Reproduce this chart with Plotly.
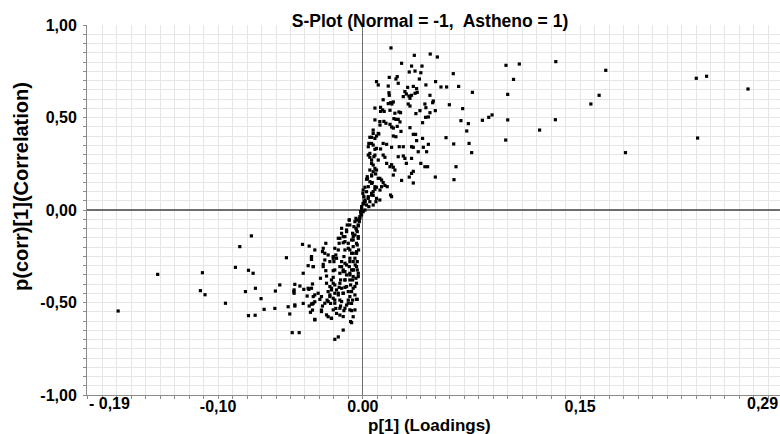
import plotly.graph_objects as go

# ---- data: (p[1] loading, p(corr)[1] correlation) ----
pos_upper = [
    [0.0194,0.876],[0.0355,0.836],[0.0465,0.843],[0.0514,0.827],[0.0267,0.793],[0.0336,0.778],[0.0408,0.778],[0.032,0.746],[0.036,0.751],[0.040,0.742],
    [0.039,0.708],[0.0237,0.721],[0.0228,0.708],[0.0182,0.717],[0.0624,0.737],[0.0094,0.694],[0.0106,0.676],[0.0175,0.670],[0.0244,0.685],[0.0309,0.663],
    [0.0348,0.668],[0.0371,0.656],[0.0435,0.676],[0.0502,0.694],[0.0539,0.665],[0.0578,0.665],[0.0661,0.668],[0.0756,0.636],[0.018,0.634],[0.0182,0.620],
    [0.029,0.640],[0.030,0.627],[0.0279,0.613],[0.0318,0.616],[0.0336,0.620],[0.036,0.631],[0.0375,0.636],[0.0463,0.620],[0.0486,0.589],[0.0482,0.580],
    [0.014,0.596],[0.0191,0.580],[0.021,0.584],[0.0175,0.575],[0.020,0.573],[0.0122,0.555],[0.0083,0.551],[0.0136,0.541],[0.0122,0.533],[0.0147,0.533],
    [0.0325,0.604],[0.0313,0.573],[0.0325,0.562],[0.0428,0.573],[0.0435,0.553],[0.0597,0.569],[0.0689,0.548],[0.0187,0.539],[0.0249,0.530],[0.026,0.526],
    [0.0221,0.523],[0.0394,0.537],[0.0366,0.521],[0.0463,0.526],[0.050,0.537],[0.0433,0.501],[0.0452,0.503],[0.0677,0.483],[0.0728,0.467],[0.0083,0.487],
    [0.0117,0.478],[0.0145,0.479],[0.0159,0.469],[0.0187,0.463],[0.0214,0.494],[0.0228,0.490],[0.0244,0.490],[0.0198,0.449],[0.021,0.443],[0.0237,0.452],
    [0.0256,0.476],[0.0325,0.445],[0.0412,0.472],[0.0717,0.427],[0.0574,0.391],[0.0627,0.357],[0.0733,0.360],[0.0751,0.310],[0.0071,0.414],[0.0094,0.400],
    [0.011,0.411],[0.006,0.393],[0.0048,0.393],[0.021,0.400],[0.0228,0.396],[0.0348,0.409],[0.0364,0.409],[0.0263,0.425],[0.0371,0.375],[0.0412,0.387],
    [0.0452,0.355],[0.0417,0.339],[0.0279,0.342],[0.0251,0.342],[0.0336,0.342],[0.0348,0.339],[0.0382,0.315],[0.044,0.315],[0.0041,0.360],[0.0071,0.351],
    [0.0083,0.328],[0.014,0.360],[0.0164,0.355],[0.0122,0.330],[0.0198,0.339],
]

pos_lower = [
    [0.0244,0.288],[0.0279,0.292],[0.029,0.279],[0.0336,0.279],[0.030,0.252],[0.040,0.252],[0.0428,0.234],[0.0447,0.234],[0.0643,0.234],[0.050,0.178],
    [0.0629,0.164],[0.0348,0.209],[0.0336,0.198],[0.032,0.178],[0.0267,0.160],[0.0348,0.146],[0.0037,0.297],[0.0048,0.285],[0.0076,0.288],[0.014,0.297],
    [0.0152,0.285],[0.0106,0.270],[0.0164,0.252],[0.0187,0.234],[0.0198,0.245],[0.021,0.231],[0.0221,0.216],[0.021,0.189],[0.006,0.252],[0.0071,0.243],
    [0.0083,0.225],[0.0048,0.216],[0.0071,0.207],[0.0088,0.195],[0.006,0.184],[0.003,0.180],[0.0025,0.166],[0.0048,0.153],[0.0065,0.148],[0.0117,0.171],
    [0.0129,0.162],[0.014,0.148],[0.0152,0.133],[0.0168,0.126],[0.0129,0.126],[0.0094,0.123],[0.0083,0.112],[0.0071,0.099],[0.0037,0.126],[0.0014,0.123],
    [0.0002,0.108],[0.006,0.090],[0.0071,0.079],[0.0191,0.081],[0.0198,0.072],[0.009,0.045],[0.0117,0.054],[0.0037,0.063],[0.0014,0.045],[0.0002,0.036],
    [-0.0009,0.018],[0.0025,0.027],[0.0007,0.072],[0.0,0.090],[-0.0009,-0.009],[-0.0014,-0.018],[0.0014,0.0],[0.0014,0.054],[0.0037,0.072],[0.0025,0.099],
    [0.0048,0.045],[0.006,0.144],[0.0032,0.171],[0.006,0.189],[0.006,0.270],[0.0083,0.297],[0.0048,0.306],[0.0094,0.333],[0.006,0.360],[0.0083,0.387],
    [0.0106,0.414],[0.0071,0.432],[0.0118,0.459],[0.0037,0.342],[0.0094,0.216],[0.0106,0.171],[0.0118,0.108],[0.0094,0.063],[0.0041,0.018],[0.006,0.081],
    [0.0083,0.126],[0.0071,0.027],
]

pos_outliers = [
    [0.0988,0.782],[0.108,0.789],[0.104,0.706],[0.100,0.625],[0.0825,0.485],[0.0869,0.501],[0.0892,0.514],[0.100,0.487],[0.122,0.432],[0.0986,0.378],
    [0.1332,0.802],[0.1329,0.488],[0.1677,0.755],[0.1631,0.620],[0.1574,0.573],[0.1813,0.310],[0.2302,0.712],[0.2373,0.723],[0.2659,0.654],[0.2311,0.389],
]

neg_outliers = [
    [-0.169,-0.546],[-0.1417,-0.348],[-0.1108,-0.339],[-0.1122,-0.436],[-0.109,-0.458],[-0.0949,-0.504],[-0.088,-0.310],[-0.085,-0.198],[-0.077,-0.140],[-0.079,-0.326],
    [-0.0758,-0.342],[-0.0811,-0.441],[-0.0742,-0.423],[-0.0703,-0.479],[-0.079,-0.571],[-0.0744,-0.569],[-0.0682,-0.537],
]

neg_core = [
    [-0.0528,-0.258],[-0.0604,-0.438],[-0.0608,-0.532],[-0.0574,-0.405],[-0.0516,-0.523],[-0.0505,-0.562],[-0.047,-0.519],[-0.0477,-0.441],[-0.047,-0.402],[-0.0488,-0.663],
    [-0.044,-0.663],[-0.0417,-0.186],[-0.0371,-0.195],[-0.0412,-0.342],[-0.0435,-0.411],[-0.0408,-0.429],[-0.0378,-0.423],[-0.0385,-0.465],[-0.0355,-0.423],[-0.0348,-0.400],
    [-0.0343,-0.468],[-0.0355,-0.252],[-0.0355,-0.267],[-0.0332,-0.216],[-0.0343,-0.306],[-0.0378,-0.301],[-0.0412,-0.505],[-0.0371,-0.519],[-0.0348,-0.508],[-0.0332,-0.496],
    [-0.0348,-0.541],[-0.0362,-0.553],[-0.0332,-0.591],[-0.0293,-0.369],[-0.0297,-0.483],[-0.0286,-0.541],[-0.0279,-0.519],[-0.0274,-0.294],[-0.0279,-0.225],[-0.0256,-0.180],
    [-0.0256,-0.328],[-0.0251,-0.357],[-0.0251,-0.396],[-0.024,-0.441],[-0.0247,-0.487],[-0.0263,-0.234],[-0.0228,-0.414],[-0.0228,-0.468],[-0.0217,-0.378],[-0.0217,-0.432],
    [-0.0223,-0.505],[-0.024,-0.577],[-0.0217,-0.586],[-0.0205,-0.328],[-0.0205,-0.364],[-0.0194,-0.405],[-0.0194,-0.450],[-0.0194,-0.487],[-0.0187,-0.532],[-0.0182,-0.559],
    [-0.0205,-0.261],[-0.020,-0.279],[-0.0187,-0.243],[-0.017,-0.216],[-0.0164,-0.180],[-0.0159,-0.153],[-0.0147,-0.126],[-0.0147,-0.279],[-0.0147,-0.306],[-0.0159,-0.342],
    [-0.0154,-0.378],[-0.0164,-0.418],[-0.017,-0.450],[-0.0159,-0.487],[-0.0154,-0.519],[-0.0159,-0.568],[-0.017,-0.686],[-0.0194,-0.699],[-0.0136,-0.649],[-0.0131,-0.544],
    [-0.0113,-0.514],[-0.0101,-0.487],[-0.0136,-0.450],[-0.0124,-0.418],[-0.0124,-0.378],[-0.0124,-0.333],[-0.0113,-0.297],[-0.0131,-0.252],[-0.0124,-0.216],[-0.0136,-0.177],
    [-0.0124,-0.144],[-0.0113,-0.108],[-0.0108,-0.081],[-0.0094,-0.054],[-0.0101,-0.180],[-0.009,-0.216],[-0.009,-0.261],[-0.0094,-0.306],[-0.009,-0.351],[-0.0085,-0.405],
    [-0.0078,-0.441],[-0.009,-0.468],[-0.0078,-0.505],[-0.0078,-0.544],[-0.0078,-0.609],[-0.0067,-0.577],[-0.0071,-0.487],[-0.0071,-0.378],[-0.0067,-0.324],[-0.0067,-0.279],
    [-0.0067,-0.234],[-0.0067,-0.162],[-0.0071,-0.126],[-0.0062,-0.090],[-0.0055,-0.063],[-0.0048,-0.045],[-0.0044,-0.108],[-0.0039,-0.189],[-0.0044,-0.234],[-0.0039,-0.279],
    [-0.0039,-0.324],[-0.0048,-0.369],[-0.0055,-0.414],[-0.0055,-0.459],[-0.0039,-0.483],[-0.0032,-0.086],[-0.0025,-0.054],[-0.0021,-0.036],[-0.0016,-0.009],[-0.0009,0.009],
    [0.0002,0.032],[0.0014,0.045],[-0.0032,-0.144],[-0.003,-0.216],[-0.0053,-0.297],
]

neg_dense = [
    [0.0002,-0.009],[-0.0009,-0.027],[-0.0021,-0.045],[-0.0025,-0.063],[-0.0032,-0.081],[-0.0044,-0.054],[-0.0048,-0.099],[-0.0039,-0.117],[-0.0055,-0.135],[-0.0032,-0.153],
    [-0.0067,-0.144],[-0.0078,-0.162],[-0.0044,-0.180],[-0.0067,-0.198],[-0.0094,-0.054],[-0.009,-0.081],[-0.0113,-0.117],[-0.0136,-0.144],[-0.0147,-0.099],[-0.017,-0.153],
    [-0.0124,-0.171],[-0.0101,-0.207],[-0.0078,-0.234],[-0.0044,-0.225],[-0.0055,-0.261],[-0.009,-0.279],[-0.0124,-0.288],[-0.0136,-0.324],[-0.0078,-0.324],[-0.0044,-0.306],
    [-0.0032,-0.342],[-0.0194,-0.207],[-0.0205,-0.252],[-0.024,-0.243],[-0.0228,-0.279],[-0.0182,-0.261],[-0.0274,-0.207],[-0.0263,-0.270],[-0.0355,-0.261],[-0.0343,-0.306],
    [-0.0274,-0.306],[-0.0194,-0.324],[-0.0159,-0.306],
    [-0.0136,-0.333],[-0.0113,-0.351],[-0.009,-0.342],[-0.0067,-0.360],[-0.009,-0.378],[-0.0124,-0.378],[-0.0159,-0.396],[-0.0205,-0.396],[-0.0217,-0.423],[-0.0182,-0.432],
    [-0.0147,-0.423],[-0.0113,-0.414],[-0.0101,-0.441],[-0.0136,-0.450],[-0.017,-0.459],[-0.0205,-0.477],[-0.0228,-0.459],[-0.024,-0.495],[-0.0194,-0.504],[-0.0147,-0.495],
    [-0.0101,-0.504],[-0.0159,-0.531],[-0.0124,-0.531],[-0.009,-0.540],[-0.0205,-0.540],[-0.0263,-0.504],[-0.0286,-0.468],[-0.0309,-0.450],[-0.0332,-0.459],[-0.0343,-0.504],
    [-0.0286,-0.549],[-0.0251,-0.567],[-0.0332,-0.594],[-0.0217,-0.585],[-0.0136,-0.576],[-0.0085,-0.603],[-0.0044,-0.483],[-0.0055,-0.540],[-0.0067,-0.423],[-0.0044,-0.396],
    [-0.0032,-0.360],[-0.0067,-0.324],
    [-0.0475,-0.432],[-0.0475,-0.450],[-0.047,-0.513],[-0.0373,-0.429],[-0.0355,-0.508],
]

x_ticks = [-0.10, 0.0, 0.15]
x_ticktext = ["-0,10", "0.00", "0,15"]
x_min, x_max = -0.1905, 0.288
x_end_labels = [(x_min, "- 0,19"), (x_max, "0,29")]
y_ticks = [-1.0, -0.5, 0.0, 0.5, 1.0]
y_ticktext = ["-1,00", "-0,50", "0,00", "0,50", "1,00"]

all_points = pos_upper + pos_lower + pos_outliers + neg_outliers + neg_core + neg_dense
loadings = [p[0] for p in all_points]
correlation = [p[1] for p in all_points]

FONT = "Arial, Liberation Sans, sans-serif"
GRID = "#e6e6e6"
AXIS = "#8a8a8a"

fig = go.Figure()
fig.add_trace(go.Scatter(
    x=loadings, y=correlation, mode="markers",
    marker=dict(symbol="square", size=3.2, color="black", line=dict(width=0)),
    hoverinfo="x+y", showlegend=False,
))

fig.update_layout(
    width=780, height=434,
    margin=dict(l=87, r=0, t=25, b=39),
    paper_bgcolor="white", plot_bgcolor="white",
    font=dict(family=FONT, color="black"),
    title=dict(text="S-Plot (Normal = -1,  Astheno = 1)",
               font=dict(family=FONT, size=17.5, weight="bold", color="black"),
               xref="container", x=430/780, xanchor="center",
               yref="container", y=1 - 21/434, yanchor="middle"),
    xaxis=dict(
        range=[x_min, x_max], tickvals=x_ticks, ticktext=x_ticktext,
        tickfont=dict(family=FONT, size=16, weight="bold"),
        ticks="", ticklen=0, ticklabelstandoff=-3,
        showgrid=True, gridcolor=GRID, gridwidth=1,
        minor=dict(dtick=0.01, tick0=0, showgrid=True, gridcolor=GRID, gridwidth=1,
                   ticks="outside", ticklen=3, tickcolor=AXIS),
        showline=True, linecolor=AXIS, linewidth=1,
        zeroline=True, zerolinecolor="#6e6e6e", zerolinewidth=1,
        fixedrange=True,
    ),
    yaxis=dict(
        range=[-1, 1], tickvals=y_ticks, ticktext=y_ticktext,
        tickfont=dict(family=FONT, size=16, weight="bold"),
        ticks="outside", ticklen=3, tickcolor=AXIS, ticklabelstandoff=3,
        showgrid=True, gridcolor=GRID, gridwidth=1,
        minor=dict(dtick=0.05, tick0=0, showgrid=True, gridcolor=GRID, gridwidth=1,
                   ticks="outside", ticklen=3, tickcolor=AXIS),
        showline=True, linecolor=AXIS, linewidth=1,
        zeroline=True, zerolinecolor="#6e6e6e", zerolinewidth=1.5,
        fixedrange=True,
    ),
)

for xv, txt in x_end_labels:
    fig.add_annotation(x=xv, y=0, xref="x", yref="paper", text=txt, showarrow=False,
                       xanchor="left" if xv < 0 else "right", yanchor="top", yshift=2,
                       font=dict(family=FONT, size=16, weight="bold", color="black"))

fig.add_annotation(text="p[1] (Loadings)", xref="paper", yref="paper",
                   x=(429 - 87) / 693, y=(395 - 425) / 370, xanchor="center", yanchor="middle",
                   showarrow=False, font=dict(family=FONT, size=17, weight="bold", color="black"))
fig.add_annotation(text="p(corr)[1](Correlation)", xref="paper", yref="paper",
                   x=(21 - 87) / 693, y=(395 - 187) / 370, xanchor="center", yanchor="middle",
                   textangle=-90, showarrow=False,
                   font=dict(family=FONT, size=20, weight="bold", color="black"))

fig.write_html("out.html")
